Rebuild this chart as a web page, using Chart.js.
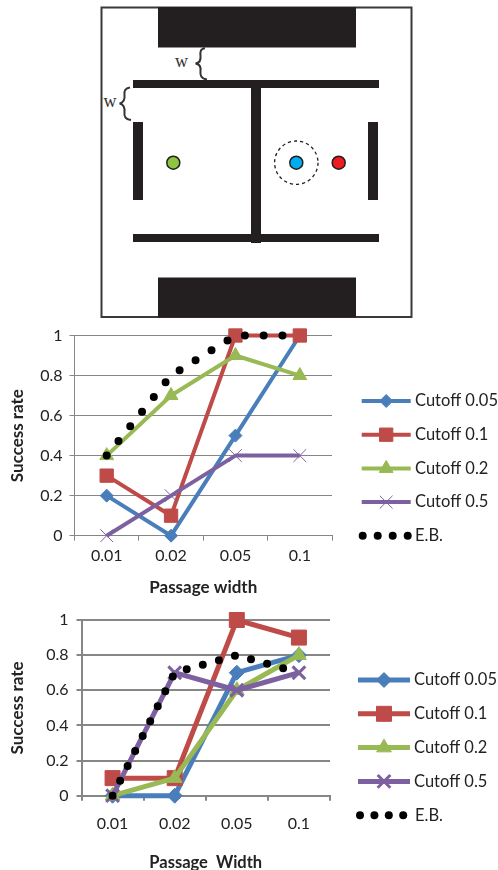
<!DOCTYPE html>
<html>
<head>
<meta charset="utf-8">
<title>Success rate vs passage width</title>
<script src="https://cdn.jsdelivr.net/npm/chart.js@4/dist/chart.umd.js"></script>
<style>
  html, body { margin: 0; padding: 0; background: #fff; }
  body { width: 498px; height: 870px; position: relative; overflow: hidden; }
  svg, canvas { position: absolute; left: 0; display: block; }
  #map { top: 0; }
  #chart1 { top: 310px; }
  #chart2 { top: 600px; }
</style>
</head>
<body>
<!-- environment sketch above the two charts -->
<svg id="map" width="498" height="320" viewBox="0 0 498 320">
  <rect x="101.5" y="7.5" width="310" height="309.5" fill="#fff" stroke="#3a3839" stroke-width="2"/>
  <g fill="#231f20">
    <rect x="158" y="7" width="198" height="40.5"/>
    <rect x="158" y="277.5" width="198" height="40"/>
    <rect x="133" y="80" width="246" height="8"/>
    <rect x="133" y="234" width="246" height="8"/>
    <rect x="251" y="88" width="10" height="155"/>
    <rect x="133" y="122" width="10" height="78"/>
    <rect x="368" y="122" width="10" height="78"/>
  </g>
  <circle cx="296.3" cy="162.7" r="21.7" fill="none" stroke="#231f20" stroke-width="1.3" stroke-dasharray="3.2 3"/>
  <g stroke="#231f20" stroke-width="1.5">
    <circle cx="173.3" cy="162.7" r="6.5" fill="#8cc63f"/>
    <circle cx="296.3" cy="162.7" r="6.5" fill="#00aeef"/>
    <circle cx="338.7" cy="162.7" r="6.5" fill="#ed1c24"/>
  </g>
  <g fill="none" stroke="#333" stroke-width="2">
    <path d="M205 48.2 C200.5 48.5 200 52 200.5 56 C201 60 199.5 63 195.5 63.5 C199.5 64 201 67 200.5 71 C200 75 201 79 207 79.5"/>
    <path d="M130 87.5 C125 88 124 91 124.5 95 C125 99 123.5 103 119.5 103.5 C123.5 104 125 108 124.5 112 C124 116 125 119.5 131 120"/>
  </g>
  <g font-family="'Liberation Serif', serif" font-size="18" fill="#333" text-anchor="middle">
    <text x="181.5" y="67">w</text>
    <text x="110" y="107">w</text>
  </g>
</svg>

<canvas id="chart1" width="498" height="290"></canvas>
<canvas id="chart2" width="498" height="273"></canvas>

<script>
const categories = ['0.01', '0.02', '0.05', '0.1'];
const yTicks = [0, 0.2, 0.4, 0.6, 0.8, 1];

const seriesNames = ['Cutoff 0.05', 'Cutoff 0.1', 'Cutoff 0.2', 'Cutoff 0.5', 'E.B.'];
const seriesColors = ['#4a7ebb', '#be4b48', '#98b954', '#7d60a0', '#000000'];
const seriesMarkers = ['rectRot', 'rect', 'triangle', 'crossRot', false];

// top chart
const top005 = [0.2, 0, 0.5, 1];
const top01 = [0.3, 0.1, 1, 1];
const top02 = [0.4, 0.7, 0.9, 0.8];
const top05 = [0, 0.2, 0.4, 0.4];
const topEB = [0.4, 0.8, 1, 1];

// bottom chart
const bot005 = [0, 0, 0.7, 0.8];
const bot01 = [0.1, 0.1, 1, 0.9];
const bot02 = [0, 0.1, 0.6, 0.8];
const bot05 = [0, 0.7, 0.6, 0.7];
const botEB = [0, 0.7, 0.8, 0.7];

const FONT = "Lato, 'Open Sans', sans-serif";
const TEXT = '#222';
const GRID = '#868686';

// legend with the line running through the marker, like the spreadsheet one
const lineLegend = {
  id: 'lineLegend',
  afterDraw(chart, args, opts) {
    const ctx = chart.ctx;
    ctx.save();
    chart.data.datasets.forEach((ds, i) => {
      const y = opts.top + i * opts.step;
      if (ds.pointStyle) {
        ctx.strokeStyle = ds.borderColor;
        ctx.lineWidth = ds.borderWidth;
        ctx.beginPath();
        ctx.moveTo(opts.x0, y);
        ctx.lineTo(opts.x1, y);
        ctx.stroke();
        ctx.fillStyle = ds.borderColor;
        ctx.lineWidth = ds.pointBorderWidth;
        Chart.helpers.drawPoint(ctx, {
          pointStyle: ds.pointStyle,
          radius: ds.pointRadius,
          rotation: 0,
          borderWidth: ds.pointBorderWidth
        }, (opts.x0 + opts.x1) / 2, y);
      } else {
        ctx.fillStyle = ds.borderColor;
        for (let d = 0; d < 4; d++) {
          ctx.beginPath();
          ctx.arc(opts.dotX + d * opts.dotStep, y, ds.borderWidth / 2, 0, Math.PI * 2);
          ctx.fill();
        }
      }
      ctx.fillStyle = TEXT;
      ctx.font = '16.5px ' + FONT;
      ctx.textAlign = 'left';
      ctx.textBaseline = 'middle';
      ctx.fillText(ds.label, i === 4 ? opts.ebTextX : opts.textX, y);
    });
    ctx.restore();
  }
};

function makeChart(id, values, cfg) {
  const datasets = values.map((data, i) => {
    const isDots = !seriesMarkers[i];
    return {
      label: seriesNames[i],
      data: data,
      borderColor: seriesColors[i],
      backgroundColor: seriesColors[i],
      borderWidth: isDots ? 8 : cfg.lineWidth,
      borderDash: isDots ? [0, cfg.dotGap] : [],
      borderCapStyle: isDots ? 'round' : 'butt',
      borderJoinStyle: 'round',
      pointStyle: seriesMarkers[i],
      pointRadius: isDots ? 0 : cfg.markers[i],
      pointBorderWidth: seriesMarkers[i] === 'crossRot' ? cfg.crossWidth : 1,
      pointBorderColor: seriesColors[i],
      pointBackgroundColor: seriesColors[i],
      tension: 0,
      clip: false,
      order: values.length - i
    };
  });

  return new Chart(document.getElementById(id), {
    type: 'line',
    data: { labels: categories, datasets: datasets },
    plugins: [lineLegend],
    options: {
      responsive: false,
      animation: false,
      events: [],
      layout: { padding: { left: 0, top: cfg.plotTop, right: cfg.plotRight, bottom: 0 } },
      plugins: {
        legend: { display: false },
        tooltip: { enabled: false },
        lineLegend: cfg.legend
      },
      scales: {
        x: {
          offset: true,
          afterFit: s => { s.height = cfg.xHeight; },
          grid: {
            offset: true,
            drawOnChartArea: false,
            color: GRID,
            lineWidth: cfg.gridWidth,
            tickLength: 5
          },
          border: { color: GRID, width: cfg.gridWidth },
          ticks: { color: TEXT, font: { family: FONT, size: 16 }, padding: cfg.xPad, maxRotation: 0 },
          title: {
            display: true,
            text: cfg.xTitle,
            color: TEXT,
            font: { family: FONT, size: cfg.xTitleSize, weight: 'bold' },
            padding: { top: 0, bottom: cfg.xTitlePad }
          }
        },
        y: {
          min: 0,
          max: 1,
          afterBuildTicks: s => { s.ticks = yTicks.map(v => ({ value: v })); },
          afterFit: s => { s.width = cfg.plotLeft; },
          grid: { color: GRID, lineWidth: cfg.gridWidth, tickLength: 5 },
          border: { color: GRID, width: cfg.gridWidth },
          ticks: {
            color: TEXT,
            font: { family: FONT, size: 16 },
            padding: cfg.yPad,
            callback: v => String(v)
          },
          title: {
            display: true,
            text: 'Success rate',
            color: TEXT,
            font: { family: FONT, size: 17, weight: 'bold' },
            padding: { top: 7, bottom: 0 }
          }
        }
      }
    }
  });
}

makeChart('chart1', [top005, top01, top02, top05, topEB], {
  plotTop: 25.5,
  plotLeft: 74.5,
  plotRight: 166,
  xHeight: 64.3,
  xPad: 6,
  xTitlePad: 2,
  xTitleSize: 17,
  yPad: 7,
  lineWidth: 4,
  gridWidth: 1,
  crossWidth: 1,
  dotGap: 18.8,
  markers: [6.5, 9.4, 8, 9],
  xTitle: 'Passage width',
  legend: { x0: 361.7, x1: 410.7, textX: 415, ebTextX: 415, top: 91, step: 33.7, dotX: 362.7, dotStep: 15 }
});

makeChart('chart2', [bot005, bot01, bot02, bot05, botEB], {
  plotTop: 20,
  plotLeft: 81.5,
  plotRight: 168,
  xHeight: 77.3,
  xPad: 14,
  xTitlePad: 0,
  xTitleSize: 16.5,
  yPad: 8,
  lineWidth: 5,
  gridWidth: 2,
  crossWidth: 3,
  dotGap: 16.7,
  markers: [7.5, 10.6, 8.5, 9],
  xTitle: 'Passage  Width',
  legend: { x0: 358, x1: 410, textX: 414, ebTextX: 415, top: 80, step: 33.8, dotX: 360, dotStep: 14.4 }
});
</script>
</body>
</html>
